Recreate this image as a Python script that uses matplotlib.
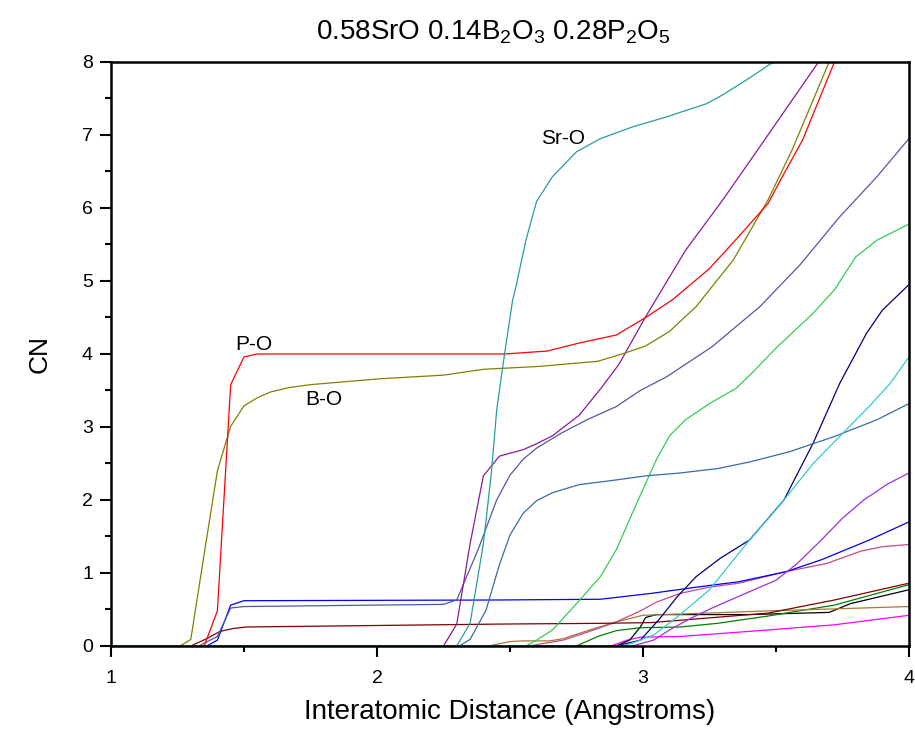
import matplotlib
matplotlib.use("Agg")
import matplotlib.pyplot as plt
from matplotlib.ticker import MultipleLocator

plt.rcParams["font.family"] = ["Liberation Sans", "DejaVu Sans"]
plt.rcParams["mathtext.fontset"] = "custom"
plt.rcParams["mathtext.rm"] = "Liberation Sans"
plt.rcParams["mathtext.it"] = "Liberation Sans"

title = r"0.58SrO 0.14B$_2$O$_3$ 0.28P$_2$O$_5$"
x_label = "Interatomic Distance (Angstroms)"
y_label = "CN"

# Coordination-number curves: (distance knots, CN values)
po_x = [1.0, 1.35, 1.40, 1.45, 1.50, 1.55, 2.0, 2.48, 2.64, 2.76, 2.90, 3.01, 3.11, 3.25, 3.36, 3.47, 3.53, 3.60, 3.72]
po_y = [0.0, 0.0, 0.48, 3.58, 3.96, 4.0, 4.0, 4.0, 4.04, 4.15, 4.26, 4.50, 4.74, 5.17, 5.61, 6.06, 6.47, 6.93, 8.0]

bo_x = [1.0, 1.26, 1.30, 1.35, 1.40, 1.45, 1.50, 1.55, 1.60, 1.67, 1.75, 2.01, 2.25, 2.40, 2.61, 2.83, 2.93, 3.01, 3.10, 3.20, 3.34, 3.47, 3.56, 3.70]
bo_y = [0.0, 0.0, 0.09, 1.25, 2.40, 3.01, 3.29, 3.40, 3.48, 3.54, 3.58, 3.66, 3.71, 3.79, 3.83, 3.90, 4.01, 4.11, 4.31, 4.65, 5.29, 6.11, 6.79, 8.0]

sro_x = [1.0, 2.30, 2.35, 2.40, 2.43, 2.45, 2.48, 2.51, 2.52, 2.56, 2.60, 2.66, 2.75, 2.84, 2.96, 3.09, 3.24, 3.30, 3.40, 3.49]
sro_y = [0.0, 0.0, 0.31, 1.40, 2.37, 3.23, 4.01, 4.74, 4.88, 5.56, 6.09, 6.43, 6.77, 6.95, 7.11, 7.25, 7.43, 7.55, 7.78, 8.0]

purple_x = [1.0, 2.25, 2.30, 2.35, 2.40, 2.46, 2.55, 2.60, 2.66, 2.76, 2.84, 2.91, 3.01, 3.16, 3.30, 3.43, 3.66]
purple_y = [0.0, 0.0, 0.30, 1.40, 2.33, 2.60, 2.69, 2.77, 2.88, 3.16, 3.52, 3.86, 4.51, 5.42, 6.11, 6.79, 8.0]

slate_x = [1.0, 1.33, 1.40, 1.45, 1.50, 2.25, 2.30, 2.38, 2.45, 2.50, 2.55, 2.60, 2.69, 2.79, 2.90, 2.99, 3.09, 3.26, 3.44, 3.59, 3.74, 3.88, 4.0]
slate_y = [0.0, 0.0, 0.13, 0.52, 0.54, 0.57, 0.63, 1.32, 2.00, 2.34, 2.56, 2.71, 2.91, 3.10, 3.28, 3.50, 3.69, 4.10, 4.65, 5.22, 5.88, 6.43, 6.95]

steel_x = [1.0, 2.31, 2.35, 2.41, 2.46, 2.50, 2.55, 2.60, 2.66, 2.76, 2.89, 3.01, 3.14, 3.28, 3.40, 3.55, 3.72, 3.88, 4.0]
steel_y = [0.0, 0.0, 0.09, 0.49, 1.11, 1.52, 1.82, 1.99, 2.10, 2.21, 2.27, 2.33, 2.37, 2.43, 2.52, 2.66, 2.87, 3.10, 3.32]

green_x = [1.0, 2.56, 2.60, 2.66, 2.75, 2.84, 2.90, 2.96, 3.05, 3.10, 3.16, 3.25, 3.35, 3.41, 3.50, 3.64, 3.72, 3.80, 3.88, 4.0]
green_y = [0.0, 0.0, 0.08, 0.22, 0.58, 0.95, 1.32, 1.82, 2.55, 2.88, 3.10, 3.32, 3.53, 3.74, 4.08, 4.56, 4.88, 5.33, 5.56, 5.78]

navy_x = [1.0, 2.90, 2.99, 3.06, 3.13, 3.20, 3.29, 3.40, 3.53, 3.64, 3.74, 3.84, 3.90, 4.0]
navy_y = [0.0, 0.0, 0.08, 0.36, 0.68, 0.95, 1.20, 1.45, 2.00, 2.78, 3.60, 4.28, 4.60, 4.95]

cyan_x = [1.0, 2.92, 2.96, 3.04, 3.13, 3.25, 3.40, 3.53, 3.64, 3.75, 3.85, 3.93, 4.0]
cyan_y = [0.0, 0.0, 0.04, 0.15, 0.40, 0.77, 1.45, 2.00, 2.50, 2.91, 3.28, 3.60, 3.96]

violet_x = [1.0, 2.96, 3.04, 3.10, 3.18, 3.26, 3.36, 3.50, 3.58, 3.67, 3.75, 3.83, 3.92, 4.0]
violet_y = [0.0, 0.0, 0.08, 0.22, 0.38, 0.52, 0.68, 0.90, 1.13, 1.45, 1.75, 2.00, 2.22, 2.37]

blue_x = [1.0, 1.36, 1.40, 1.45, 1.50, 2.46, 2.84, 3.03, 3.21, 3.36, 3.54, 3.67, 3.85, 4.0]
blue_y = [0.0, 0.0, 0.08, 0.56, 0.62, 0.63, 0.64, 0.72, 0.81, 0.88, 1.02, 1.18, 1.45, 1.70]

maroon_x = [1.0, 1.30, 1.36, 1.41, 1.46, 1.51, 2.46, 2.84, 3.03, 3.47, 3.72, 4.0]
maroon_y = [0.0, 0.0, 0.10, 0.20, 0.24, 0.26, 0.30, 0.31, 0.32, 0.45, 0.63, 0.86]

pink_x = [1.0, 2.57, 2.70, 2.80, 2.90, 2.99, 3.05, 3.14, 3.24, 3.36, 3.54, 3.69, 3.82, 3.90, 4.0]
pink_y = [0.0, 0.0, 0.08, 0.20, 0.33, 0.48, 0.60, 0.72, 0.80, 0.86, 1.02, 1.13, 1.30, 1.36, 1.39]

tan_x = [1.0, 2.42, 2.50, 2.55, 2.65, 2.70, 2.80, 2.90, 3.00, 3.08, 3.47, 4.0]
tan_y = [0.0, 0.0, 0.06, 0.07, 0.07, 0.10, 0.22, 0.33, 0.42, 0.43, 0.48, 0.54]

dkgreen_x = [1.0, 2.75, 2.83, 2.90, 2.99, 3.14, 3.28, 3.47, 3.72, 4.0]
dkgreen_y = [0.0, 0.0, 0.13, 0.21, 0.25, 0.26, 0.31, 0.41, 0.56, 0.84]

black_x = [1.0, 2.90, 2.95, 2.99, 3.01, 3.05, 3.40, 3.70, 3.78, 4.0]
black_y = [0.0, 0.0, 0.08, 0.26, 0.39, 0.43, 0.43, 0.46, 0.58, 0.77]

magenta_x = [1.0, 2.88, 2.94, 2.99, 3.14, 3.40, 3.72, 4.0]
magenta_y = [0.0, 0.0, 0.08, 0.12, 0.13, 0.20, 0.29, 0.42]

series = [
    (magenta_x, magenta_y, "#ff00ff"),
    (black_x, black_y, "#000000"),
    (dkgreen_x, dkgreen_y, "#008000"),
    (tan_x, tan_y, "#a87838"),
    (pink_x, pink_y, "#c44a8a"),
    (maroon_x, maroon_y, "#800000"),
    (blue_x, blue_y, "#0000ff"),
    (violet_x, violet_y, "#9a30f0"),
    (navy_x, navy_y, "#000080"),
    (green_x, green_y, "#33cc55"),
    (steel_x, steel_y, "#3a6aa8"),
    (slate_x, slate_y, "#5058a8"),
    (purple_x, purple_y, "#8a1a96"),
    (bo_x, bo_y, "#808000"),
    (po_x, po_y, "#ff0000"),
    (cyan_x, cyan_y, "#33cccc"),
    (sro_x, sro_y, "#2a9c9c"),
]

labels = [("P-O", 1.466, 4.05), ("B-O", 1.729, 3.30), ("Sr-O", 2.617, 6.88)]

fig = plt.figure(figsize=(9.15, 7.38), dpi=100)
ax = fig.add_axes([0.1213, 0.1247, 0.8721, 0.7913])

for xs, ys, c in series:
    ax.plot(xs, ys, color=c, lw=0.9, solid_joinstyle="round")

for txt, lx, ly in labels:
    ax.text(lx, ly, txt, fontsize=15, ha="left", va="baseline")

ax.set_xlim(1, 4)
ax.set_ylim(0, 8)
ax.xaxis.set_major_locator(MultipleLocator(1))
ax.xaxis.set_minor_locator(MultipleLocator(0.5))
ax.yaxis.set_major_locator(MultipleLocator(1))
ax.yaxis.set_minor_locator(MultipleLocator(0.5))
ax.tick_params(which="major", direction="out", length=8, width=1.5, labelsize=14, pad=5)
ax.tick_params(axis="x", which="major", pad=9)
ax.tick_params(which="minor", direction="out", length=4, width=1.5)
for s in ax.spines.values():
    s.set_linewidth(1.8)

ax.set_xlabel(x_label, fontsize=20, labelpad=9)
ax.set_ylabel(y_label, fontsize=19, labelpad=22)
ax.set_title(title, fontsize=20, pad=16, x=0.479)

fig.savefig("out.png", dpi=100)
